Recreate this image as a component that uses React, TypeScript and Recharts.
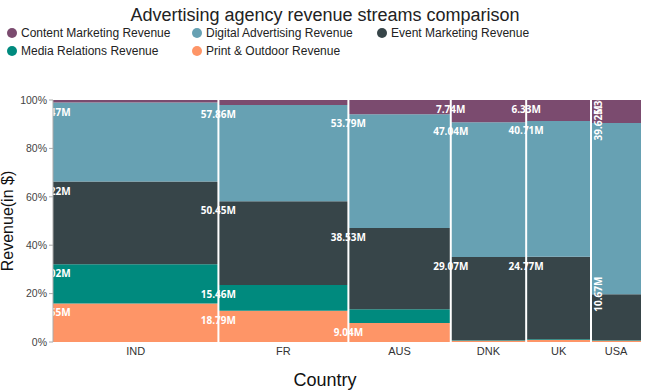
import { ComposedChart, XAxis, YAxis, ReferenceArea, ReferenceLine } from "recharts";

const countries = ["IND", "FR", "AUS", "DNK", "UK", "USA"];

const contentRevenue = [2.0, 3.0, 6.8, 7.74, 6.33, 5.3];
const digitalRevenue = [60.47, 57.86, 53.79, 47.04, 40.71, 39.62];
const eventRevenue = [63.22, 50.45, 38.53, 29.07, 24.77, 10.67];
const mediaRevenue = [30.02, 15.46, 6.5, 0.2, 0.2, 0.1];
const printRevenue = [29.55, 18.79, 9.04, 0.4, 0.6, 0.3];

const yTicks = [0, 20, 40, 60, 80, 100];

const W = 650;
const H = 392;
const MARGIN = { top: 100, right: 9, bottom: 0, left: 0 };
const Y_AXIS_W = 53;
const X_AXIS_H = 50;
const PLOT = {
  left: MARGIN.left + Y_AXIS_W,
  top: MARGIN.top,
  width: W - MARGIN.left - Y_AXIS_W - MARGIN.right,
  height: H - MARGIN.top - MARGIN.bottom - X_AXIS_H,
};

const FONT = "'Liberation Sans', Arial, sans-serif";

// legend order
const SERIES = [
  { name: "Content Marketing Revenue", color: "#7b4b6f", values: contentRevenue },
  { name: "Digital Advertising Revenue", color: "#67a1b3", values: digitalRevenue },
  { name: "Event Marketing Revenue", color: "#374549", values: eventRevenue },
  { name: "Media Relations Revenue", color: "#008a7e", values: mediaRevenue },
  { name: "Print & Outdoor Revenue", color: "#fe9567", values: printRevenue },
];

// stacked bottom → top
const STACK = [SERIES[4], SERIES[3], SERIES[2], SERIES[1], SERIES[0]];

const totals = countries.map((_, i) => SERIES.reduce((s, ser) => s + ser.values[i], 0));
const grandTotal = totals.reduce((a, b) => a + b, 0);

const starts: number[] = [];
totals.reduce((acc, t) => {
  starts.push(acc);
  return acc + t;
}, 0);

const chartData = countries.map((c, i) => ({ country: c, mid: starts[i] + totals[i] / 2, share: 100 }));
const mids = chartData.map((d) => d.mid);
const boundaries = starts.slice(1);

interface Segment {
  key: string;
  x1: number;
  x2: number;
  y1: number;
  y2: number;
  color: string;
  value: number;
  pct: number;
  rotate: boolean;
}

const segments: Segment[] = [];
countries.forEach((c, i) => {
  let cum = 0;
  const narrow = totals[i] / grandTotal < 0.1;
  STACK.forEach((ser) => {
    const pct = (ser.values[i] / totals[i]) * 100;
    segments.push({
      key: `${c}-${ser.name}`,
      x1: starts[i],
      x2: starts[i] + totals[i],
      y1: cum,
      y2: Math.min(100, cum + pct),
      color: ser.color,
      value: ser.values[i],
      pct,
      rotate: narrow,
    });
    cum += pct;
  });
});

function segLabel(seg: Segment) {
  // eslint-disable-next-line @typescript-eslint/no-explicit-any
  return (props: any) => {
    const vb = props.viewBox || {};
    const x = vb.x - PLOT.left;
    const y = vb.y - PLOT.top;
    const text = `${seg.value.toFixed(2)}M`;
    const common = {
      fill: "#fff",
      fontSize: 10,
      fontWeight: 700,
      fontFamily: "'Open Sans', sans-serif",
      textAnchor: "middle" as const,
      dominantBaseline: "central" as const,
    };
    return (
      <svg x={PLOT.left} y={PLOT.top} width={PLOT.width} height={PLOT.height} overflow="hidden">
        {seg.rotate ? (
          <text {...common} x={x + 7} y={y} transform={`rotate(-90, ${x + 7}, ${y})`}>
            {text}
          </text>
        ) : (
          <text {...common} x={x} y={y + 9}>
            {text}
          </text>
        )}
      </svg>
    );
  };
}

// eslint-disable-next-line @typescript-eslint/no-explicit-any
const YLabel = (props: any) => {
  const vb = props.viewBox || { y: PLOT.top, height: PLOT.height };
  const cy = vb.y + vb.height / 2;
  return (
    <text
      x={7}
      y={cy}
      transform={`rotate(-90, 7, ${cy})`}
      textAnchor="middle"
      dominantBaseline="central"
      fontSize={16}
      fontFamily={FONT}
      fill="#111"
    >
      Revenue(in $)
    </text>
  );
};

const XLabel = () => (
  <text x={W / 2} y={H - 12} textAnchor="middle" dominantBaseline="central" fontSize={18} fontFamily={FONT} fill="#111">
    Country
  </text>
);

export default function App() {
  return (
    <div style={{ position: "relative", width: W, height: H, background: "#fff", fontFamily: FONT }}>
      <style>{"body{margin:0}"}</style>
      <div
        style={{
          position: "absolute",
          top: 3,
          left: 0,
          width: W,
          textAlign: "center",
          fontSize: 18,
          lineHeight: "24px",
          color: "#222",
        }}
      >
        Advertising agency revenue streams comparison
      </div>
      {SERIES.map((s, i) => {
        const col = i % 3;
        const row = Math.floor(i / 3);
        return (
          <div
            key={s.name}
            style={{
              position: "absolute",
              left: 7 + col * 185,
              top: 24 + row * 18,
              height: 18,
              display: "flex",
              alignItems: "center",
              gap: 4,
              fontSize: 12,
              color: "#222",
              whiteSpace: "nowrap",
            }}
          >
            <div style={{ width: 10, height: 10, borderRadius: "50%", background: s.color }} />
            <span>{s.name}</span>
          </div>
        );
      })}
      <div style={{ position: "absolute", top: 0, left: 0 }}>
        <ComposedChart width={W} height={H} data={chartData} margin={MARGIN}>
          <XAxis
            dataKey="mid"
            type="number"
            domain={[0, grandTotal]}
            allowDataOverflow
            ticks={mids}
            interval={0}
            tickFormatter={(_v: number, i: number) => countries[i]}
            tick={{ fill: "#333", fontSize: 11, fontFamily: FONT }}
            axisLine={false}
            tickLine={false}
            tickSize={0}
            tickMargin={5}
            height={X_AXIS_H}
            label={<XLabel />}
          />
          <YAxis
            dataKey="share"
            type="number"
            domain={[0, 100]}
            allowDataOverflow
            ticks={yTicks}
            interval={0}
            tickFormatter={(v: number) => `${v}%`}
            tick={{ fill: "#444", fontSize: 10.5, fontFamily: FONT }}
            axisLine={{ stroke: "#aaa" }}
            tickLine={{ stroke: "#aaa" }}
            tickSize={4}
            tickMargin={2}
            width={Y_AXIS_W}
            label={<YLabel />}
          />
          {segments.map((seg) => (
            <ReferenceArea
              key={seg.key}
              x1={seg.x1}
              x2={seg.x2}
              y1={seg.y1}
              y2={seg.y2}
              fill={seg.color}
              fillOpacity={1}
              stroke="none"
              ifOverflow="visible"
            />
          ))}
          {segments
            .filter((seg) => seg.pct >= 7)
            .map((seg) => (
              <ReferenceArea
                key={`lbl-${seg.key}`}
                x1={seg.x1}
                x2={seg.x2}
                y1={seg.y1}
                y2={seg.y2}
                fill="none"
                fillOpacity={0}
                stroke="none"
                ifOverflow="visible"
                label={segLabel(seg)}
              />
            ))}
          {boundaries.map((b) => (
            <ReferenceLine key={b} x={b} stroke="#fff" strokeWidth={2} ifOverflow="visible" />
          ))}
        </ComposedChart>
      </div>
    </div>
  );
}
